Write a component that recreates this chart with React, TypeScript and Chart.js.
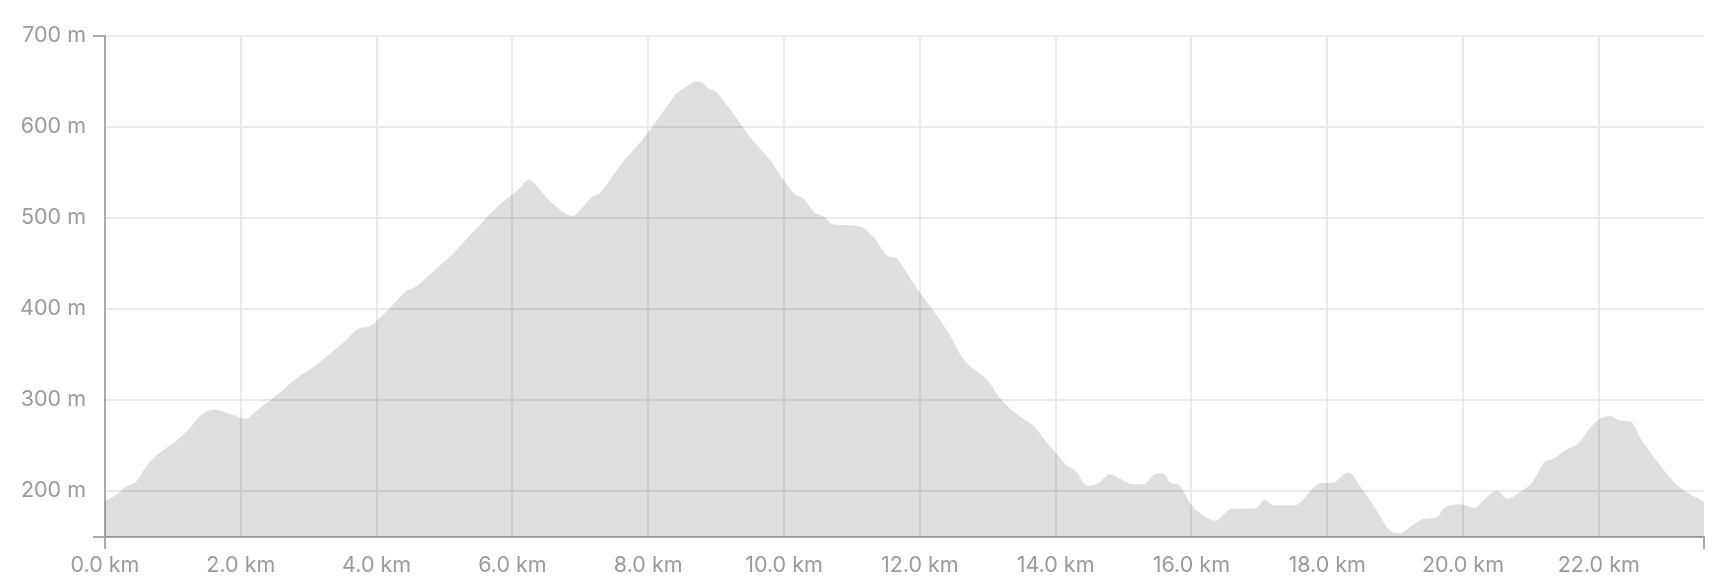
import React, { useEffect, useRef } from "react";
import { Chart, registerables } from "chart.js";

Chart.register(...registerables);

// Distance along the route (km)
const distanceKm = [
  0.0, 0.16, 0.32, 0.46, 0.64, 0.89, 1.05, 1.25, 1.41, 1.61, 1.86, 2.08, 2.22, 2.51, 2.83, 3.07, 3.32, 3.56, 3.76, 3.88,
  4.05, 4.21, 4.45, 4.57, 4.86, 5.1, 5.34, 5.59, 5.79, 5.99, 6.11, 6.24, 6.36, 6.52, 6.72, 6.88, 7.04, 7.17, 7.29, 7.45,
  7.61, 7.85, 8.02, 8.26, 8.42, 8.54, 8.71, 8.79, 8.87, 8.99, 9.23, 9.47, 9.72, 9.84, 10.0, 10.16, 10.29, 10.45, 10.57, 10.73,
  10.93, 11.14, 11.33, 11.53, 11.65, 11.81, 12.0, 12.22, 12.46, 12.62, 12.79, 12.99, 13.19, 13.35, 13.56, 13.68, 13.84, 14.0, 14.16, 14.29,
  14.47, 14.63, 14.8, 14.93, 15.14, 15.3, 15.46, 15.58, 15.7, 15.8, 16.01, 16.19, 16.35, 16.59, 16.96, 17.08, 17.2, 17.53, 17.77, 17.89,
  18.09, 18.31, 18.54, 18.74, 18.94, 19.07, 19.19, 19.43, 19.62, 19.72, 19.96, 20.18, 20.32, 20.5, 20.66, 20.85, 21.01, 21.21, 21.33, 21.5,
  21.7, 21.85, 22.02, 22.18, 22.31, 22.47, 22.63, 22.84, 23.01, 23.14, 23.32, 23.55,
];

// Elevation (m)
const elevationM = [
  189, 195, 205, 210, 230, 246, 255, 269, 283, 289, 284, 279, 287, 304, 324, 336, 351, 366, 379, 380,
  390, 402, 420, 424, 443, 459, 478, 498, 513, 525, 533, 542, 535, 521, 508, 502, 512, 523, 527, 543,
  560, 580, 596, 621, 637, 643, 650, 649, 643, 639, 617, 592, 570, 559, 541, 526, 521, 506, 502, 493,
  492, 490, 478, 458, 456, 439, 418, 396, 369, 347, 334, 322, 301, 289, 277, 271, 256, 242, 228, 222,
  205, 208, 218, 214, 207, 207, 218, 219, 208, 207, 183, 172, 167, 180, 181, 190, 184, 184, 201, 208,
  209, 220, 199, 177, 155, 153, 158, 169, 171, 181, 185, 181, 191, 200, 191, 199, 208, 232, 235, 244,
  252, 267, 279, 282, 277, 276, 256, 234, 218, 207, 197, 188,
];

const yTickValues = [200, 300, 400, 500, 600, 700];
const xTickValues = [0, 2, 4, 6, 8, 10, 12, 14, 16, 18, 20, 22];

const FONT = "Inter, 'Helvetica Neue', Arial, sans-serif";
const TEXT = "#9a9a9a";
const AXIS = "#aaaaaa";
const GRID = "#ebebeb";

const endTicks = {
  id: "endTicks",
  afterDraw(chart: any) {
    const { ctx, chartArea } = chart;
    const { left, right, top, bottom } = chartArea;
    const L = 12;
    ctx.save();
    ctx.strokeStyle = AXIS;
    ctx.lineWidth = 2;
    ctx.beginPath();
    ctx.moveTo(left - L, top);
    ctx.lineTo(left, top);
    ctx.moveTo(left - L, bottom);
    ctx.lineTo(left, bottom);
    ctx.moveTo(left, bottom);
    ctx.lineTo(left, bottom + L);
    ctx.moveTo(right, bottom);
    ctx.lineTo(right, bottom + L);
    ctx.stroke();
    ctx.restore();
  },
};

export default function App() {
  const ref = useRef<HTMLCanvasElement | null>(null);

  useEffect(() => {
    if (!ref.current) return;
    const points = distanceKm.map((d, i) => ({ x: d, y: elevationM[i] }));
    const chart = new Chart(ref.current, {
      type: "line",
      data: {
        datasets: [
          {
            data: points,
            fill: "start",
            backgroundColor: "rgba(0,0,0,0.13)",
            borderWidth: 0,
            borderColor: "rgba(0,0,0,0)",
            pointRadius: 0,
            cubicInterpolationMode: "monotone",
          },
        ],
      },
      options: {
        animation: false,
        responsive: false,
        layout: { padding: { top: 36, right: 22, bottom: 0, left: 0 } },
        plugins: { legend: { display: false }, tooltip: { enabled: false } },
        scales: {
          x: {
            type: "linear",
            min: 0,
            max: 23.55,
            afterFit: (s: any) => {
              s.height = 47;
            },
            afterBuildTicks: (s: any) => {
              s.ticks = xTickValues.map((v) => ({ value: v }));
            },
            ticks: {
              stepSize: 2,
              includeBounds: false,
              color: TEXT,
              font: { family: FONT, size: 21.5 },
              padding: 4,
              maxRotation: 0,
              callback: (v: any) => `${Number(v).toFixed(1)} km`,
            },
            grid: { color: GRID, lineWidth: 2, tickLength: 12, tickColor: "rgba(0,0,0,0)" },
            border: { display: true, color: AXIS, width: 2 },
          },
          y: {
            min: 149,
            max: 700,
            afterFit: (s: any) => {
              s.width = 105;
            },
            afterBuildTicks: (s: any) => {
              s.ticks = yTickValues.map((v) => ({ value: v }));
            },
            ticks: {
              stepSize: 100,
              includeBounds: false,
              color: TEXT,
              font: { family: FONT, size: 21.5 },
              padding: 7,
              callback: (v: any) => `${v} m`,
            },
            grid: { color: GRID, lineWidth: 2, tickLength: 12, tickColor: "rgba(0,0,0,0)" },
            border: { display: true, color: AXIS, width: 2 },
          },
        },
      },
      plugins: [endTicks],
    });
    return () => chart.destroy();
  }, []);

  return (
    <div style={{ position: "absolute", left: 0, top: 0, width: 1726, height: 584 }}>
      <canvas ref={ref} width={1726} height={584} style={{ display: "block" }} />
    </div>
  );
}
